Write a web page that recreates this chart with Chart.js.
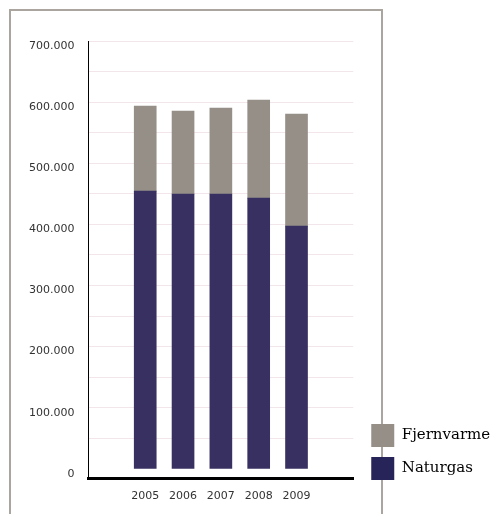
<!DOCTYPE html>
<html>
<head>
<meta charset="utf-8">
<script src="https://cdn.jsdelivr.net/npm/chart.js@4/dist/chart.umd.min.js"></script>
<style>
  body { margin: 0; background: #fff; }
  #wrap { position: relative; width: 496px; height: 514px; overflow: hidden; }
  #frame { position: absolute; left: 9px; top: 9px; width: 370px; height: 520px; border: 2px solid #aaa69f; }
  #grafico { position: absolute; left: 0; top: 0; }
</style>
</head>
<body>
<div id="wrap">
  <div id="frame"></div>
  <canvas id="grafico" width="496" height="514"></canvas>
</div>
<script>
var years = ['2005', '2006', '2007', '2008', '2009'];
var naturgas = [454500, 449600, 449600, 443000, 397200];
var fjernvarme = [139100, 135800, 140700, 160400, 183300];
var yTicks = [0, 50000, 100000, 150000, 200000, 250000, 300000, 350000, 400000, 450000, 500000, 550000, 600000, 650000, 700000];

// en tom kategori foran og bagved, saa soejlerne sidder som i originalen
var labels = [''].concat(years, ['']);
var pad = function(arr){ return [null].concat(arr, [null]); };

var fmt = function(v){
  return v.toString().replace(/\B(?=(\d{3})+(?!\d))/g, '.');
};

// flyt legenden lidt op og giv teksten plads helt ud til kanten
var legendShift = {
  id: 'legendShift',
  afterLayout: function(chart){
    chart.legend.top -= 24;
    chart.legend.bottom -= 24;
    chart.legend.left += 8;
    chart.legend.right = chart.width;
  }
};

var ctx = document.getElementById('grafico').getContext('2d');
var myChart = new Chart(ctx, {
  type: 'bar',
  data: {
    labels: labels,
    datasets: [{
      label: 'Naturgas',
      data: pad(naturgas),
      backgroundColor: '#383060',
      stack: 's'
    }, {
      label: 'Fjernvarme',
      data: pad(fjernvarme),
      backgroundColor: '#958f88',
      stack: 's'
    }]
  },
  options: {
    responsive: false,
    animation: false,
    barThickness: 22,
    layout: { padding: { top: 41, left: 15, bottom: 0, right: 30 } },
    scales: {
      x: {
        stacked: true,
        grid: { display: false, drawTicks: false },
        border: { color: '#000', width: 3 },
        ticks: { padding: 11, color: '#333', font: { family: 'DejaVu Sans', size: 11 }, maxRotation: 0, autoSkip: false }
      },
      y: {
        stacked: true,
        min: -16300,
        max: 700000,
        afterBuildTicks: function(axis){
          axis.ticks = yTicks.map(function(v){ return { value: v }; });
        },
        grid: {
          drawTicks: false,
          color: function(c){ return c.tick && c.tick.value === 0 ? 'rgba(0,0,0,0)' : '#f2e6ea'; }
        },
        border: { color: '#000', width: 1 },
        ticks: {
          padding: 14,
          labelOffset: 5,
          color: '#333',
          font: { family: 'DejaVu Sans', size: 11 },
          callback: function(v){ return v % 100000 === 0 ? fmt(v) : ''; }
        }
      }
    },
    plugins: {
      legend: {
        position: 'right',
        align: 'end',
        labels: {
          boxWidth: 23,
          boxHeight: 23,
          padding: 10,
          color: '#222',
          font: { family: 'DejaVu Serif', size: 15 },
          generateLabels: function(chart){
            var cols = ['#958f88', '#27245a'];
            var sets = chart.data.datasets.slice().reverse();
            return sets.map(function(ds, i){
              return { text: ds.label, fillStyle: cols[i], strokeStyle: cols[i], lineWidth: 0, datasetIndex: 1 - i };
            });
          }
        }
      },
      tooltip: { enabled: false }
    }
  },
  plugins: [legendShift]
});
</script>
</body>
</html>
